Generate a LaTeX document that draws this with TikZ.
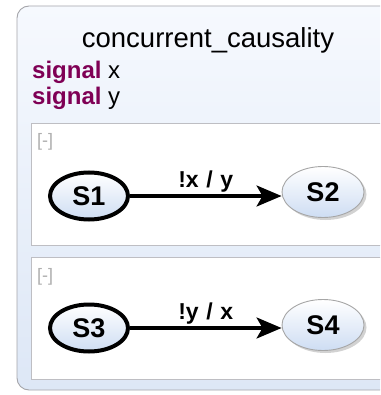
\documentclass[tikz,border=0pt]{standalone}
\usepackage{fontspec}
\setmainfont{Liberation Sans}
\usepackage{tikz}
\usetikzlibrary{shapes, arrows.meta, positioning, shadows}
\definecolor{framefill}{RGB}{221, 231, 246}
\definecolor{frametop}{RGB}{246, 249, 254}
\definecolor{frameline}{RGB}{165, 165, 170}
\definecolor{regionline}{RGB}{190, 190, 195}
\definecolor{statefill}{RGB}{206, 221, 243}
\definecolor{keyword}{RGB}{127, 0, 85}
\definecolor{hidegray}{RGB}{175, 175, 175}
\tikzset{
  region/.style={rectangle, draw=regionline, fill=white, line width=0.9pt, minimum width=370pt, minimum height=122pt, inner sep=0pt},
  state/.style={ellipse, draw=gray!70, line width=0.9pt, top color=white, bottom color=statefill, minimum width=82pt, minimum height=51pt, inner sep=0pt, font=\fontsize{27}{30}\selectfont\bfseries, drop shadow={shadow xshift=2.5pt, shadow yshift=-2.5pt, opacity=0.35}},
  initstate/.style={ellipse, draw=black, line width=4pt, top color=white, bottom color=statefill, minimum width=78pt, minimum height=47pt, inner sep=0pt, font=\fontsize{27}{30}\selectfont\bfseries},
  trans/.style={-{Stealth[length=25pt, width=21pt, inset=6pt]}, line width=3.2pt},
  translabel/.style={font=\fontsize{23}{26}\selectfont\bfseries, inner sep=2pt},
  hidebtn/.style={font=\fontsize{18}{20}\selectfont, text=hidegray, inner sep=0pt, anchor=west}
}
\begin{document}
\begin{tikzpicture}[x=1pt, y=-1pt]
    \useasboundingbox (0,0) rectangle (380,395);
    \clip (0,0) rectangle (380,395);
    % Outer frame
    \node[rectangle, rounded corners=12pt, draw=frameline, line width=0.9pt, top color=frametop, bottom color=framefill, minimum width=400pt, minimum height=384pt, inner sep=0pt] (Frame) at (217,198) {};
    \node[font=\fontsize{27.5}{32}\selectfont] (Title) at (208,40) {concurrent\_causality};
    \node[anchor=west, font=\fontsize{24}{28}\selectfont, inner sep=0pt] (SigX) at (32,72) {\textcolor{keyword}{\bfseries signal} x};
    \node[anchor=west, font=\fontsize{24}{28}\selectfont, inner sep=0pt] (SigY) at (32,98) {\textcolor{keyword}{\bfseries signal} y};

    % Region 1
    \node[region] (RegA) at (216,184) {};
    \node[hidebtn] (HideA) at (37,142) {[-]};
    \node[initstate] (S1) at (89,196) {S1};
    \node[state] (S2) at (323,192) {S2};
    \draw[trans] (S1) -- node[translabel, above] (LabA) {!x\,\,/\,\,y} (S1 -| S2.west);

    % Region 2
    \node[region] (RegB) at (216,318) {};
    \node[hidebtn] (HideB) at (37,277) {[-]};
    \node[initstate] (S3) at (89,328) {S3};
    \node[state] (S4) at (323,325) {S4};
    \draw[trans] (S3) -- node[translabel, above] (LabB) {!y\,\,/\,\,x} (S3 -| S4.west);
\end{tikzpicture}
\end{document}
